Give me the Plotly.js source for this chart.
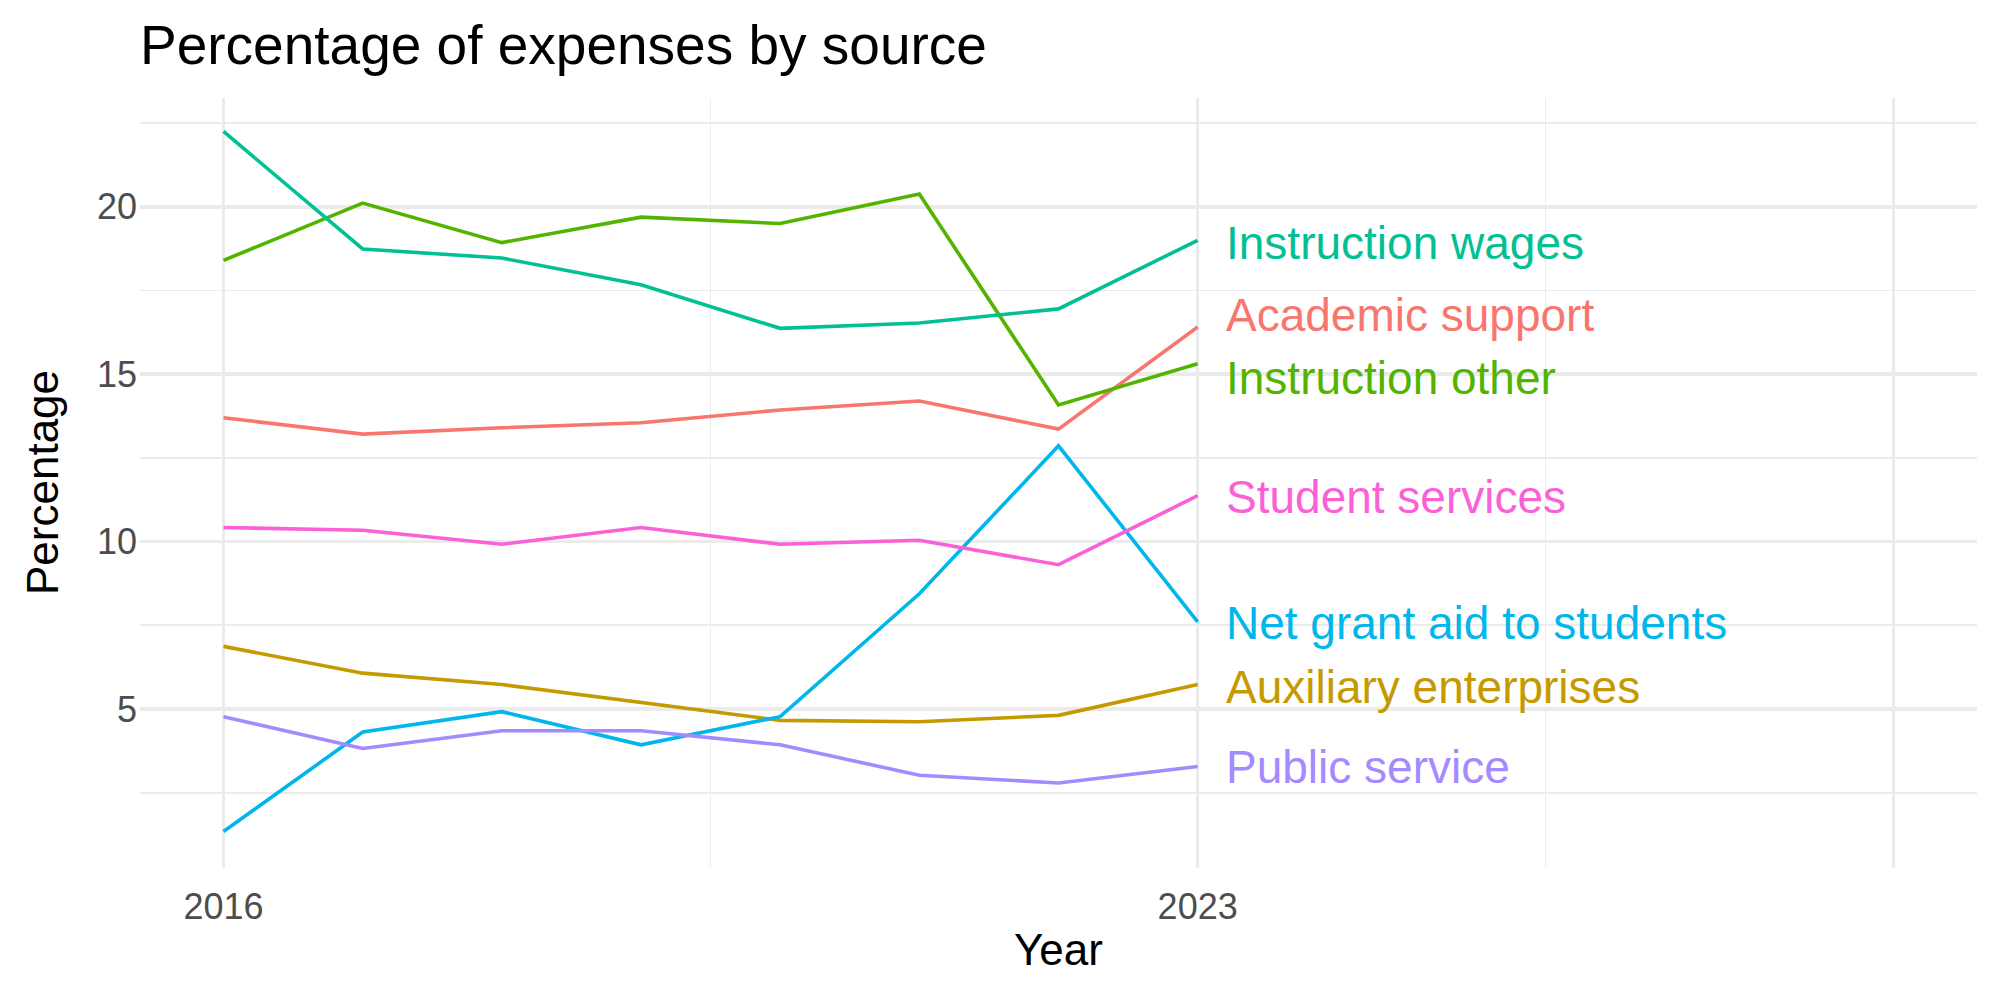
<!DOCTYPE html>
<html>
<head>
<meta charset="utf-8">
<script src="https://cdn.plot.ly/plotly-3.0.1.min.js"></script>
<style>html,body{margin:0;padding:0;background:#fff;}#chart{width:2000px;height:1000px;}</style>
</head>
<body>
<div id="chart"></div>
<script>
// ---- data ----
const years = [2016, 2017, 2018, 2019, 2020, 2021, 2022, 2023];
const seriesNames = ["Academic support", "Auxiliary enterprises", "Instruction other", "Instruction wages", "Net grant aid to students", "Public service", "Student services"];
const academicSupport     = [13.70, 13.21, 13.40, 13.55, 13.93, 14.20, 13.36, 16.41];
const auxiliaryEnterprises= [6.87, 6.07, 5.73, 5.19, 4.66, 4.62, 4.81, 5.73];
const instructionOther    = [18.40, 20.11, 18.93, 19.69, 19.50, 20.38, 14.08, 15.31];
const instructionWages    = [22.25, 18.74, 18.47, 17.67, 16.37, 16.53, 16.95, 19.00];
const netGrantAid         = [1.34, 4.31, 4.92, 3.93, 4.77, 8.44, 12.86, 7.60];
const publicService       = [4.77, 3.82, 4.35, 4.35, 3.93, 3.02, 2.79, 3.28];
const studentServices     = [10.42, 10.34, 9.92, 10.42, 9.92, 10.04, 9.31, 11.37];
// repelled label positions (y, in percentage units) for the end-of-line labels
const labelY = [16.76, 5.65, 14.89, 18.93, 7.56, 3.28, 11.34];
const xTickVals = [2016, 2023, 2028];
const xTickText = ["2016", "2023", ""];
const xMinorVals = [2019.5, 2025.5];
const yTickVals = [5, 10, 15, 20];
const yTickText = ["5", "10", "15", "20"];
const yMinorVals = [2.5, 7.5, 12.5, 17.5, 22.5];

// ---- styles ----
const values = [academicSupport, auxiliaryEnterprises, instructionOther, instructionWages, netGrantAid, publicService, studentServices];
const colors = ["#F8766D", "#C49A00", "#53B400", "#00C094", "#00B6EB", "#A58AFF", "#FB61D7"];
const FONT = "Liberation Sans, Arial, Helvetica, sans-serif";
const grid = "#EBEBEB";

const traces = seriesNames.map((name, i) => ({
  type: "scatter",
  mode: "lines",
  name: name,
  x: years,
  y: values[i],
  line: {color: colors[i], width: 3.6},
  hoverinfo: "skip",
  showlegend: false
}));

const lastYear = years[years.length - 1];
const annotations = seriesNames.map((name, i) => ({
  x: lastYear, y: labelY[i], xref: "x", yref: "y",
  text: name, showarrow: false, xanchor: "left", yanchor: "middle",
  xshift: 26,
  font: {family: FONT, size: 46, color: colors[i]}
}));
// y-axis title as a rotated annotation (for exact placement)
annotations.push({
  text: "Percentage", xref: "paper", yref: "paper",
  x: (42 - 140) / 1837, y: 0.5, xanchor: "center", yanchor: "middle",
  textangle: -90, showarrow: false,
  font: {family: FONT, size: 44, color: "#000"}
});

const layout = {
  width: 2000, height: 1000,
  paper_bgcolor: "#fff", plot_bgcolor: "#fff",
  margin: {l: 140, r: 23, t: 98, b: 132, pad: 0},
  title: {
    text: "Percentage of expenses by source",
    x: 0, xref: "paper", xanchor: "left",
    y: 0.955, yref: "container", yanchor: "middle",
    font: {family: FONT, size: 55, color: "#000"}
  },
  xaxis: {
    range: [2015.4, 2028.6],
    tickmode: "array", tickvals: xTickVals, ticktext: xTickText,
    showgrid: true, gridcolor: grid, gridwidth: 3.5,
    zeroline: false, showline: false, ticks: "",
    ticklabelstandoff: 14,
    tickfont: {family: FONT, size: 36, color: "#4D4D4D"},
    minor: {tickvals: xMinorVals, showgrid: true, gridcolor: grid, gridwidth: 1.8, ticks: ""},
    title: {text: "Year", font: {family: FONT, size: 44, color: "#000"}, standoff: 8}
  },
  yaxis: {
    range: [0.25, 23.25],
    tickmode: "array", tickvals: yTickVals, ticktext: yTickText,
    showgrid: true, gridcolor: grid, gridwidth: 3.5,
    zeroline: false, showline: false, ticks: "",
    ticklabelstandoff: 2,
    tickfont: {family: FONT, size: 36, color: "#4D4D4D"},
    minor: {tickvals: yMinorVals, showgrid: true, gridcolor: grid, gridwidth: 1.8, ticks: ""}
  },
  annotations: annotations
};

Plotly.newPlot("chart", traces, layout, {staticPlot: true, displayModeBar: false});
</script>
</body>
</html>
